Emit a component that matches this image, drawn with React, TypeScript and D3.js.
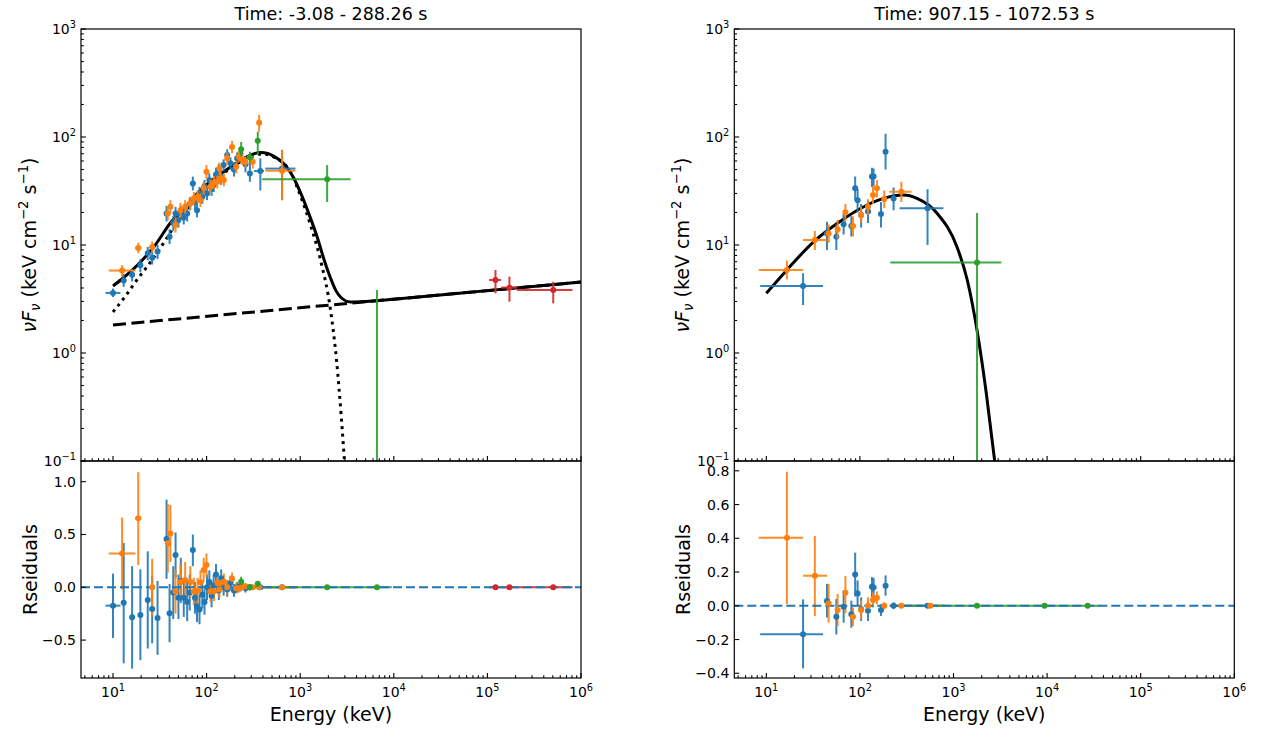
import React from "react";
import * as d3 from "d3";

// Row: [E, E_lo, E_hi, flux, flux_lo, flux_hi, resid, resid_lo, resid_hi]
type Row = (number | null)[];

const C0 = "#1f77b4";
const C1 = "#ff7f0e";
const C2 = "#2ca02c";
const C3 = "#d62728";

const leftBlue: Row[] = [
  [10, 8.3, 12, 3.6, 3.3, 3.95, -0.174, -0.48, 0.13],
  [13.0, 12.3, 13.8, 4.7, 4.1, 5.4, -0.146, -0.72, 0.42],
  [16.0, 15.3, 16.8, 5.3, 4.6, 6.0, -0.284, -0.77, 0.2],
  [19.6, 18.7, 20.6, 6.5, 5.6, 7.4, -0.262, -0.69, 0.17],
  [23.5, 22.5, 24.5, 8.4, 7.2, 9.6, -0.12, -0.58, 0.34],
  [26.2, 25.1, 27.3, 7.6, 6.6, 8.7, -0.205, -0.53, 0.11],
  [29.9, 28.6, 31.2, 8.7, 7.4, 10.0, -0.29, -0.64, 0.06],
  [37.3, 35.7, 39, 19.6, 16.5, 23, 0.457, 0.08, 0.83],
  [40.2, 38.5, 42, 11.9, 10.2, 14, -0.246, -0.52, 0.03],
  [44, 42, 46, 16, 13.5, 18.5, -0.05, -0.3, 0.2],
  [46.6, 44.6, 48.7, 19.6, 17, 22.5, 0.306, 0.09, 0.52],
  [50, 47.8, 52.3, 17, 14.5, 20, -0.1, -0.3, 0.12],
  [53, 50.7, 55.4, 20, 17, 23, 0.06, -0.15, 0.28],
  [57, 54.5, 59.6, 18, 15.5, 21, -0.1, -0.28, 0.08],
  [62, 59.3, 64.8, 19.6, 16.5, 23, -0.14, -0.32, 0.05],
  [66, 63, 69, 24, 21, 27.5, -0.05, -0.22, 0.12],
  [71.3, 68, 74.5, 37.2, 32, 43, 0.353, 0.2, 0.5],
  [75, 72, 78.5, 25, 21.5, 29, -0.1, -0.25, 0.05],
  [79, 75.5, 82.5, 21, 18, 24.5, -0.18, -0.33, -0.03],
  [84, 80.4, 87.8, 30, 26, 34.5, -0.21, -0.35, -0.07],
  [90, 86, 94, 28, 24, 32, -0.07, -0.2, 0.06],
  [95, 91, 99, 35, 30, 40, -0.14, -0.26, -0.02],
  [101, 96.6, 105.5, 30, 26, 34.5, 0.0, -0.12, 0.12],
  [107, 102, 112, 40, 34.5, 46, 0.05, -0.06, 0.16],
  [113, 108, 118, 33, 28.5, 38, -0.08, -0.19, 0.03],
  [119, 114, 124, 36, 31, 41.5, 0.02, -0.08, 0.12],
  [126, 120.5, 131.5, 45, 39, 52, 0.12, 0.02, 0.22],
  [135, 129, 141, 49.4, 43, 56, -0.03, -0.12, 0.06],
  [143, 137, 149, 42, 36, 48, 0.085, 0.0, 0.17],
  [152, 145, 159, 55, 48, 62, 0.0, -0.08, 0.08],
  [166, 159, 173, 68, 60, 77, -0.02, -0.09, 0.05],
  [180, 172, 188, 57, 50, 65, 0.04, -0.03, 0.11],
  [196, 187, 205, 50, 43, 58, -0.03, -0.09, 0.03],
  [212, 203, 221, 63.5, 56, 72, 0.0, -0.05, 0.05],
  [230, 220, 240, 70, 61, 80, 0.01, -0.04, 0.06],
  [260, 248, 272, 56, 47, 66, -0.01, -0.05, 0.03],
  [290, 277, 303, 46, 38.5, 59, 0.0, -0.03, 0.03],
  [375, 320, 410, 48.4, 32, 63.5, 0.0, -0.02, 0.02],
  [640, 424, 890, 51, 26, 76, 0.0, -0.01, 0.01],
];

const leftOrange: Row[] = [
  [12.5, 9.0, 17.4, 5.8, 5.1, 6.5, 0.32, -0.02, 0.66],
  [18.6, 17.2, 20.0, 9.4, 8.4, 10.5, 0.653, 0.21, 1.09],
  [26.2, 24.5, 28, 9.6, 8.5, 10.8, 0.0, -0.27, 0.27],
  [38.5, 36.5, 40.5, 19.6, 17, 22.5, 0.416, 0.14, 0.79],
  [41, 39, 43, 22.6, 19.5, 26, 0.51, 0.24, 0.78],
  [46.5, 44.3, 48.8, 15.3, 13, 18, -0.04, -0.25, 0.17],
  [52.6, 50, 55.2, 21, 18, 24.5, 0.05, -0.12, 0.22],
  [59, 56.2, 62, 22.6, 19.5, 26, 0.07, -0.1, 0.24],
  [67, 64, 70.3, 24.3, 21, 28, 0.05, -0.1, 0.2],
  [73, 69.6, 76.5, 27, 23.5, 31, -0.04, -0.17, 0.09],
  [80, 76, 84, 28, 24.5, 32, -0.035, -0.16, 0.09],
  [86, 82, 90, 26, 22.5, 30, 0.047, -0.07, 0.16],
  [93, 88.7, 97.5, 33.5, 29, 38.5, 0.164, 0.05, 0.28],
  [99.6, 95, 104.5, 47.7, 41, 55, 0.21, 0.1, 0.32],
  [110, 105, 115, 34.7, 30, 40, -0.04, -0.14, 0.06],
  [120, 114.5, 125.5, 38, 33, 43.5, -0.04, -0.13, 0.05],
  [130, 124, 136, 38.5, 33.5, 44, 0.04, -0.05, 0.13],
  [137, 131, 143, 51, 44.5, 58, -0.02, -0.1, 0.06],
  [141, 135, 147, 41.5, 36, 47.5, 0.04, -0.04, 0.12],
  [153, 146, 160, 40, 35, 46, 0.053, -0.02, 0.13],
  [166, 159, 173, 63.5, 55, 72, 0.0, -0.07, 0.07],
  [187, 179, 195, 81, 71, 92, 0.08, 0.02, 0.14],
  [207, 198, 216, 53, 46, 60, -0.01, -0.06, 0.04],
  [221, 211, 231, 65.8, 58, 74, -0.01, -0.05, 0.03],
  [240, 230, 250, 62, 55, 70, 0.0, -0.03, 0.03],
  [260, 249, 271, 59, 52, 66, 0.01, -0.02, 0.04],
  [311, 297, 325, 59, 51, 67, 0.0, -0.02, 0.02],
  [364, 350, 380, 135.5, 112, 160, 0.0, -0.01, 0.01],
  [640, 424, 890, 48.7, 26, 76, 0.0, -0.005, 0.005],
];

const leftGreen: Row[] = [
  [234, 225, 244, 77, 66, 90, 0.053, 0.01, 0.1],
  [290, 278, 303, 65, 58, 73, 0.0, -0.01, 0.01],
  [352, 340, 365, 92.5, 68, 112, 0.034, 0.01, 0.06],
  [1940, 392, 3450, 40.6, 25, 55, 0.0, 0.0, 0.0],
  [6610, 3450, 9500, 0.02, 0.01, 3.83, 0.0, 0.0, 0.0],
];

const leftRed: Row[] = [
  [1.22e5, 1.04e5, 1.4e5, 4.74, 3.57, 5.88, 0.0, 0.0, 0.0],
  [1.72e5, 1.4e5, 2.07e5, 4.03, 2.99, 5.1, 0.0, 0.0, 0.0],
  [5.05e5, 2.07e5, 8.1e5, 3.83, 2.88, 4.57, 0.0, 0.0, 0.0],
];

const rightBlue: Row[] = [
  [24.7, 8.6, 40.4, 4.17, 2.78, 5.47, -0.168, -0.371, 0.038],
  [44.5, 42.5, 46.5, 12.8, 9.0, 16.4, 0.028, -0.07, 0.13],
  [56, 53.5, 58.5, 11.9, 9.0, 15.5, -0.065, -0.17, 0.04],
  [67, 64, 70, 15.6, 12.5, 19.5, -0.006, -0.1, 0.09],
  [81, 77.5, 84.5, 15, 12, 18.5, -0.05, -0.13, 0.03],
  [89, 85, 93, 33.5, 26, 43, 0.186, 0.055, 0.315],
  [94.5, 90.5, 98.5, 26, 20, 33, 0.073, 0.0, 0.15],
  [103, 98.5, 107.5, 19, 14.5, 24, -0.02, -0.09, 0.05],
  [122, 117, 127, 20.4, 16, 25.5, -0.03, -0.09, 0.03],
  [134.5, 129, 140, 43, 34.5, 52, 0.113, 0.05, 0.17],
  [140, 134, 146, 43, 35, 51, 0.109, 0.05, 0.165],
  [168, 161, 175, 19.4, 14.5, 25, -0.025, -0.06, 0.01],
  [188, 180, 196, 73, 50, 107, 0.119, 0.06, 0.18],
  [229, 219, 239, 27, 21, 34, 0.0, -0.02, 0.02],
  [528, 265, 780, 21.9, 10, 32.8, 0.0, -0.01, 0.01],
];

const rightOrange: Row[] = [
  [16.6, 8.3, 24.7, 5.88, 4.8, 7.2, 0.403, 0.01, 0.795],
  [33, 24.7, 44.5, 11.1, 9.0, 13.5, 0.178, -0.061, 0.413],
  [46.3, 44.5, 48.5, 12.8, 10.5, 15.5, 0.014, -0.1, 0.13],
  [57.8, 55, 60.5, 14, 11.5, 17, -0.025, -0.12, 0.07],
  [70, 67, 73, 20.1, 16.5, 24, 0.077, -0.045, 0.176],
  [84.4, 81, 88, 15, 12, 18.5, -0.065, -0.12, -0.01],
  [103, 98.5, 107.5, 19, 16, 22.5, -0.025, -0.08, 0.03],
  [122, 117, 127, 22.6, 19, 26.5, 0.0, -0.05, 0.05],
  [138, 132, 144, 29, 24, 35, 0.034, -0.01, 0.08],
  [152, 146, 158, 33.5, 27.5, 40, 0.047, 0.01, 0.085],
  [182, 174, 190, 26.7, 22, 32, 0.0, -0.02, 0.02],
  [277, 206, 355, 31.2, 25, 38.5, 0.0, -0.01, 0.01],
  [564, 400, 800, null, null, null, 0.0, -0.005, 0.005],
];

const rightGreen: Row[] = [
  [1782, 211, 3245, 6.9, 0.01, 19.8, 0.0, 0.0, 0.0],
  [9400, 3245, 18000, null, null, null, 0.0, 0.0, 0.0],
  [27100, 18000, 37000, null, null, null, 0.0, 0.0, 0.0],
];

// model curves: [E, nuFnu]
const leftTotalModel: [number, number][] = [
  [10, 4.17], [13, 5.0], [19.7, 6.97], [28, 9.9], [41, 16.0], [60, 22.5], [86, 32.3],
  [125, 42], [180, 52.7], [240, 62], [294, 68], [377, 72], [450, 70.5], [519, 66.6],
  [620, 60], [731, 51.6], [850, 42], [1000, 31], [1250, 19], [1530, 11.6], [1800, 7.3],
  [2108, 4.94], [2400, 3.8], [2693, 3.3], [3443, 2.97], [5000, 3.0], [1e4, 3.15],
  [1e5, 3.78], [1e6, 4.54],
];
const leftCutoffModel: [number, number][] = [
  [10, 2.4], [13.6, 3.37], [18.3, 4.84], [25.2, 6.97], [36.4, 11.1], [52.6, 18.2],
  [86, 29], [159, 47.5], [294, 65.3], [395, 69.6], [544, 64], [787, 47.5], [1000, 29],
  [1288, 15.3], [1648, 7.26], [2108, 2.5], [2443, 0.86], [2763, 0.24], [2972, 0.1],
];
const leftPowerLaw: [number, number][] = [[10, 1.82], [1e6, 4.54]];
const rightTotalModel: [number, number][] = [
  [10, 3.57], [16.6, 5.88], [32, 10.7], [57, 15.8], [110, 22.6], [179, 27], [293, 29],
  [407, 27], [667, 19.7], [1090, 9.6], [1403, 4.74], [1782, 1.63], [2244, 0.42], [2754, 0.1],
];

const xTickExps = [1, 2, 3, 4, 5, 6];
const topTickExps = [-1, 0, 1, 2, 3];
const leftResTicks = [-0.5, 0.0, 0.5, 1.0];
const rightResTicks = [-0.4, -0.2, 0.0, 0.2, 0.4, 0.6, 0.8];

const FONT = "DejaVu Sans, Verdana, sans-serif";
const TOP_Y0 = 29;
const MID_Y = 461;
const BOT_Y = 678;
const PW = 500;

const fmtRes = (v: number) => (v < 0 ? "\u2212" : "") + Math.abs(v).toFixed(1);
const fmtExp = (e: number) => (e < 0 ? "\u2212" + Math.abs(e) : String(e));

function Pow10({ x, y, e, anchor }: { x: number; y: number; e: number; anchor: string }) {
  return (
    <text x={x} y={y} textAnchor={anchor} fontSize={14} fontFamily={FONT} fill="#000">
      <tspan>10</tspan>
      <tspan fontSize={9.8} dy={-6}>{fmtExp(e)}</tspan>
    </text>
  );
}

interface PanelProps {
  id: string;
  x0: number;
  title: string;
  series: { rows: Row[]; color: string }[];
  models: { pts: [number, number][]; dash?: string }[];
  resTicks: number[];
  resDomain: [number, number];
}

function Panel({ id, x0, title, series, models, resTicks, resDomain }: PanelProps) {
  const x1 = x0 + PW;
  const xs = d3.scaleLog().domain([4.55, 1e6]).range([x0, x1]);
  const ys = d3.scaleLog().domain([0.1, 1000]).range([MID_Y, TOP_Y0]);
  const rs = d3.scaleLinear().domain(resDomain).range([BOT_Y, MID_Y]);
  const line = d3
    .line<[number, number]>()
    .x((d) => xs(d[0]))
    .y((d) => ys(d[1]))
    .curve(d3.curveMonotoneX);

  const xTicks = xs.ticks();
  const yTicks = ys.ticks();
  const isMajor = (v: number) => Math.abs(Math.log10(v) - Math.round(Math.log10(v))) < 1e-9;

  const bars = (rows: Row[], color: string, k: number, sc: any, key: string) =>
    rows
      .filter((r) => r[k] !== null)
      .map((r, i) => {
        const x = xs(r[0] as number);
        const y = sc(r[k] as number);
        return (
          <g key={key + i} stroke={color} strokeWidth={2} strokeOpacity={0.9}>
            <line x1={xs(r[1] as number)} x2={xs(r[2] as number)} y1={y} y2={y} />
            <line x1={x} x2={x} y1={sc(r[k + 1] as number)} y2={sc(r[k + 2] as number)} />
          </g>
        );
      });
  const marks = (rows: Row[], color: string, k: number, sc: any, key: string) =>
    rows
      .filter((r) => r[k] !== null)
      .map((r, i) => (
        <circle key={key + i} cx={xs(r[0] as number)} cy={sc(r[k] as number)} r={3} fill={color} />
      ));

  const cx = (x0 + x1) / 2;
  return (
    <g>
      <defs>
        <clipPath id={id + "top"}>
          <rect x={x0} y={TOP_Y0} width={PW} height={MID_Y - TOP_Y0} />
        </clipPath>
        <clipPath id={id + "res"}>
          <rect x={x0} y={MID_Y} width={PW} height={BOT_Y - MID_Y} />
        </clipPath>
      </defs>
      {/* top panel */}
      <g clipPath={`url(#${id}top)`}>
        {models.map((m, i) => (
          <path key={i} d={line(m.pts) || ""} fill="none" stroke="#000" strokeWidth={3}
            strokeDasharray={m.dash} />
        ))}
        {series.map((s, si) => (
          <g key={si}>
            {bars(s.rows, s.color, 3, ys, "tb" + si)}
            {marks(s.rows, s.color, 3, ys, "tm" + si)}
          </g>
        ))}
      </g>
      {/* residual panel */}
      <g clipPath={`url(#${id}res)`}>
        {series.map((s, si) => (
          <g key={si}>{bars(s.rows, s.color, 6, rs, "rb" + si)}</g>
        ))}
        <line x1={x0} x2={x1} y1={rs(0)} y2={rs(0)} stroke={C0} strokeWidth={2}
          strokeDasharray="9 4" />
        {series.map((s, si) => (
          <g key={si}>{marks(s.rows, s.color, 6, rs, "rm" + si)}</g>
        ))}
      </g>
      {/* frames */}
      <rect x={x0} y={TOP_Y0} width={PW} height={MID_Y - TOP_Y0} fill="none" stroke="#000" strokeWidth={1.2} />
      <rect x={x0} y={MID_Y} width={PW} height={BOT_Y - MID_Y} fill="none" stroke="#000" strokeWidth={1.2} />
      {/* x ticks (pointing inward) */}
      {xTicks.map((t, i) => {
        const len = isMajor(t) ? 4.9 : 2.8;
        const x = xs(t);
        return (
          <g key={"xt" + i} stroke="#000" strokeWidth={1.1}>
            <line x1={x} x2={x} y1={MID_Y} y2={MID_Y - len} />
            <line x1={x} x2={x} y1={BOT_Y} y2={BOT_Y - len} />
          </g>
        );
      })}
      {xTickExps.map((e) => (
        <Pow10 key={"xl" + e} x={xs(10 ** e)} y={697} e={e} anchor="middle" />
      ))}
      {/* top y ticks */}
      {yTicks.map((t, i) => {
        const len = isMajor(t) ? 4.9 : 2.8;
        const y = ys(t);
        return <line key={"yt" + i} x1={x0} x2={x0 + len} y1={y} y2={y} stroke="#000" strokeWidth={1.1} />;
      })}
      {topTickExps.map((e) => (
        <Pow10 key={"yl" + e} x={x0 - 5} y={ys(10 ** e) + 5} e={e} anchor="end" />
      ))}
      {/* residual y ticks */}
      {resTicks.map((t, i) => (
        <g key={"rt" + i}>
          <line x1={x0} x2={x0 + 4.9} y1={rs(t)} y2={rs(t)} stroke="#000" strokeWidth={1.1} />
          <text x={x0 - 5} y={rs(t) + 5} textAnchor="end" fontSize={14} fontFamily={FONT}>
            {fmtRes(t)}
          </text>
        </g>
      ))}
      {/* titles and labels */}
      <text x={cx} y={20} textAnchor="middle" fontSize={17.5} fontFamily={FONT}>{title}</text>
      <text x={cx} y={721} textAnchor="middle" fontSize={19} fontFamily={FONT}>Energy (keV)</text>
      <text transform={`translate(${x0 - 45},${(TOP_Y0 + MID_Y) / 2}) rotate(-90)`} textAnchor="middle"
        fontSize={19} fontFamily={FONT}>
        <tspan fontStyle="italic">{"\u03BDF"}</tspan>
        <tspan fontStyle="italic" fontSize={13.3} dy={4}>{"\u03BD"}</tspan>
        <tspan dy={-4}>{" (keV cm"}</tspan>
        <tspan fontSize={13.3} dy={-8}>{"\u22122"}</tspan>
        <tspan dy={8}>{" s"}</tspan>
        <tspan fontSize={13.3} dy={-8}>{"\u22121"}</tspan>
        <tspan dy={8}>{")"}</tspan>
      </text>
      <text transform={`translate(${x0 - 44},${(MID_Y + BOT_Y) / 2}) rotate(-90)`} textAnchor="middle"
        fontSize={19} fontFamily={FONT}>Rseiduals</text>
    </g>
  );
}

export default function App() {
  return (
    <div style={{ position: "absolute", left: 0, top: 0 }}>
      <svg width={1262} height={738} style={{ display: "block", background: "#fff" }}>
        <rect width={1262} height={738} fill="#fff" />
        <Panel
          id="L"
          x0={81}
          title="Time: -3.08 - 288.26 s"
          series={[
            { rows: leftBlue, color: C0 },
            { rows: leftOrange, color: C1 },
            { rows: leftGreen, color: C2 },
            { rows: leftRed, color: C3 },
          ]}
          models={[
            { pts: leftPowerLaw, dash: "13 5.5" },
            { pts: leftCutoffModel, dash: "3 4.5" },
            { pts: leftTotalModel },
          ]}
          resTicks={leftResTicks}
          resDomain={[-0.859, 1.196]}
        />
        <Panel
          id="R"
          x0={734.3}
          title="Time: 907.15 - 1072.53 s"
          series={[
            { rows: rightBlue, color: C0 },
            { rows: rightOrange, color: C1 },
            { rows: rightGreen, color: C2 },
          ]}
          models={[{ pts: rightTotalModel }]}
          resTicks={rightResTicks}
          resDomain={[-0.428, 0.858]}
        />
      </svg>
    </div>
  );
}
